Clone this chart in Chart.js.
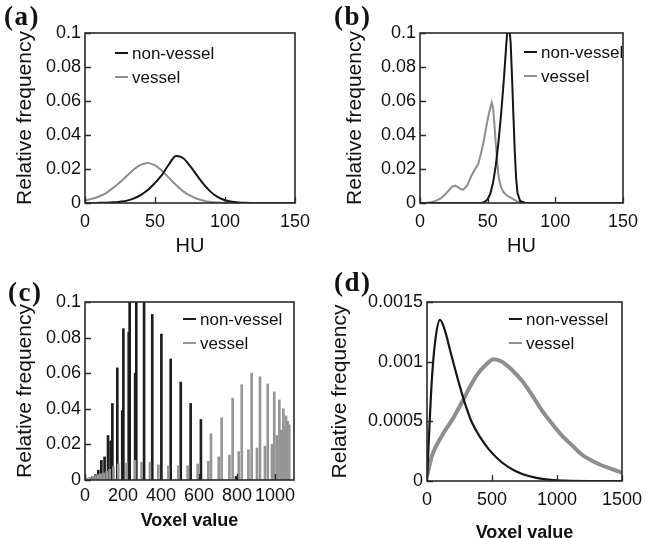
<!DOCTYPE html>
<html>
<head>
<meta charset="utf-8">
<script src="https://cdn.jsdelivr.net/npm/chart.js@4.4.1/dist/chart.umd.min.js"></script>
<style>
  body { margin: 0; background: #fff; }
  #page { position: relative; width: 656px; height: 538px; overflow: hidden; background: #fff; }
  .panel { position: absolute; }
  .panel canvas { display: block; }
  .tag { position: absolute; font: bold 27px "Liberation Serif", "Times New Roman", serif; letter-spacing: 1.5px; color: #111; line-height: 1; }
</style>
</head>
<body>
<div id="page">
  <div class="panel" style="left:0;top:0;"><canvas id="chartA" width="328" height="269"></canvas><div class="tag" style="left:4px;top:3px;">(a)</div></div>
  <div class="panel" style="left:328px;top:0;"><canvas id="chartB" width="328" height="269"></canvas><div class="tag" style="left:6px;top:3px;">(b)</div></div>
  <div class="panel" style="left:0;top:269px;"><canvas id="chartC" width="328" height="269"></canvas><div class="tag" style="left:8px;top:10px;">(c)</div></div>
  <div class="panel" style="left:328px;top:269px;"><canvas id="chartD" width="328" height="290"></canvas><div class="tag" style="left:6px;top:0px;">(d)</div></div>
</div>
<script>
// (a) HU histogram, smoothed
var huA = [0,5,10,15,20,25,30,35,40,45,50,55,60,65,70,75,80,85,90,95,100,105,110,115,120,125,130,135,140,145,150];
var nonVesselA = [0,0,0.0001,0.0002,0.0004,0.0008,0.0014,0.0027,0.0048,0.0078,0.0118,0.0165,0.0228,0.0276,0.0265,0.0218,0.0162,0.0108,0.0064,0.0034,0.0016,0.0007,0.0003,0.0001,0,0,0,0,0,0,0];
var vesselA = [0.0015,0.0025,0.0038,0.0058,0.0088,0.0122,0.0160,0.0198,0.0226,0.0236,0.0222,0.0190,0.0148,0.0106,0.0070,0.0043,0.0025,0.0013,0.0006,0.0003,0.0001,0,0,0,0,0,0,0,0,0,0];

// (b) HU histogram
var huNonB = [0,40,46,48,50,52,54,56,58,60,62,64,65,66,67,68,69,70,71,72,74,78,150];
var nonVesselB = [0,0,0.0002,0.0008,0.0022,0.0055,0.012,0.022,0.036,0.053,0.073,0.096,0.105,0.104,0.094,0.074,0.052,0.031,0.015,0.006,0.0012,0,0];
var huVesB = [0,5,8,11,15,18,21,24,26,28,30,32,35,38,40,43,45,47,49,51,53,54,55,56,57,58,59,60,62,65,68,71,75,150];
var vesselB = [0,0.0002,0.0005,0.0011,0.0025,0.0045,0.0072,0.0098,0.0102,0.0093,0.0082,0.0079,0.0105,0.016,0.019,0.023,0.029,0.036,0.045,0.053,0.059,0.056,0.046,0.035,0.025,0.016,0.012,0.009,0.006,0.004,0.0027,0.0012,0,0];

// (c) voxel value histogram (sparse bins)
var voxNonC = [40,55,70,86,103,121,135,144,170,196,202,230,235,264,270,311,354,402,451,504,556,598,610,795];
var nonVesselC = [0.002,0.003,0.0055,0.011,0.013,0.025,0.022,0.043,0.063,0.039,0.085,0.083,0.105,0.06,0.105,0.105,0.093,0.082,0.068,0.055,0.043,0.003,0.034,0.002];
var voxVesC = [10,25,40,55,70,85,100,115,130,150,175,219,263,298,342,386,439,491,540,593,649,663,704,719,760,777,809,825,860,877,905,921,947,962,984,996,1009,1023,1032,1044,1051,1058,1067,1075];
var vesselC = [0.001,0.0015,0.002,0.0025,0.003,0.0035,0.004,0.005,0.006,0.0075,0.009,0.0095,0.011,0.01,0.01,0.0085,0.008,0.008,0.008,0.009,0.0105,0.026,0.013,0.035,0.014,0.046,0.016,0.0535,0.017,0.06,0.018,0.058,0.019,0.054,0.02,0.0495,0.025,0.045,0.028,0.04,0.03,0.036,0.033,0.031];

// (d) voxel value histogram, smoothed
var voxNonD = [0,18,38,64,100,141,179,218,256,295,346,410,474,577,679,782,910,1064,1250,1500];
var nonVesselD = [0,0.00044,0.00086,0.00118,0.00135,0.00125,0.00109,0.00093,0.00078,0.00064,0.00049,0.000365,0.000267,0.000155,0.000084,0.000042,0.000014,0.000003,0,0];
var voxVesD = [0,38,115,192,269,321,385,449,513,577,654,731,808,885,962,1038,1115,1192,1269,1346,1423,1500];
var vesselD = [0.00004,0.00021,0.00038,0.00051,0.00066,0.00077,0.00089,0.00097,0.00102,0.001,0.00093,0.00084,0.00072,0.00059,0.00048,0.00038,0.0003,0.00022,0.00017,0.00013,0.0001,0.00007];

var BLACK = '#151515';
var GREY = '#8e8e8e';
var FONT = '"Liberation Sans", Arial, sans-serif';

function pts(xs, ys) {
  return xs.map(function (x, i) { return { x: x, y: ys[i] }; });
}
function fmt(v) {
  return String(Number(v.toPrecision(6)));
}

// box around the plot, ticks pointing inward, legend inside the plot
var framePlugin = {
  id: 'inside',
  afterDatasetsDraw: function (chart, args, opts) {
    var ctx = chart.ctx, a = chart.chartArea, x = chart.scales.x, y = chart.scales.y;
    ctx.save();
    ctx.strokeStyle = '#2a2a2a';
    ctx.lineWidth = 1.6;
    ctx.strokeRect(a.left, a.top, a.right - a.left, a.bottom - a.top);
    ctx.lineWidth = 1.3;
    ctx.beginPath();
    y.ticks.forEach(function (t) {
      var py = Math.round(y.getPixelForValue(t.value)) + 0.5;
      ctx.moveTo(a.left, py); ctx.lineTo(a.left + 6, py);
    });
    x.ticks.forEach(function (t) {
      var px = Math.round(x.getPixelForValue(t.value)) + 0.5;
      ctx.moveTo(px, a.bottom); ctx.lineTo(px, a.bottom - 6);
    });
    ctx.stroke();

    ctx.font = '17px ' + FONT;
    ctx.textBaseline = 'middle';
    ctx.textAlign = 'left';
    chart.data.datasets.forEach(function (ds, i) {
      var lx = a.left + opts.x, ly = a.top + opts.y + i * opts.gap;
      ctx.strokeStyle = ds.borderColor;
      ctx.lineWidth = 2;
      ctx.beginPath();
      ctx.moveTo(lx, ly); ctx.lineTo(lx + 13, ly);
      ctx.stroke();
      ctx.fillStyle = '#111';
      ctx.fillText(ds.label, lx + 17, ly + 1);
    });
    ctx.restore();
  }
};

function panel(id, type, datasets, o) {
  return new Chart(document.getElementById(id), {
    type: type,
    data: { datasets: datasets },
    options: {
      responsive: false,
      animation: false,
      events: [],
      layout: { padding: { left: 0, top: 33, right: o.right, bottom: 0 } },
      plugins: {
        legend: { display: false },
        tooltip: { enabled: false },
        inside: { x: o.legX, y: o.legY, gap: 24 }
      },
      scales: {
        x: {
          type: 'linear', min: 0, max: o.xMax, offset: false,
          grid: { display: false, drawTicks: false, offset: false },
          border: { display: false },
          ticks: { stepSize: o.xStep, includeBounds: false, autoSkip: false, maxRotation: 0, padding: o.xPad,
                   color: '#111', font: { family: FONT, size: 18 }, callback: fmt },
          title: { display: true, text: o.xTitle, color: '#111', font: o.xTitleFont,
                   padding: { top: 0, bottom: o.xTitlePad } },
          afterFit: function (s) { s.height = o.xh; }
        },
        y: {
          type: 'linear', min: 0, max: o.yMax,
          grid: { display: false, drawTicks: false },
          border: { display: false },
          ticks: { stepSize: o.yStep, padding: 4, color: '#111', autoSkip: false,
                   font: { family: FONT, size: 18 }, callback: fmt },
          title: { display: true, text: 'Relative frequency', color: '#111',
                   font: { family: FONT, size: 21 }, padding: { top: o.yTitlePad, bottom: 0 } },
          afterFit: function (s) { s.width = o.yw; }
        }
      }
    },
    plugins: [framePlugin]
  });
}

function lineSet(label, xs, ys, color, width, tension) {
  return { label: label, data: pts(xs, ys), borderColor: color, backgroundColor: color,
           borderWidth: width, pointRadius: 0, fill: false, tension: tension,
           cubicInterpolationMode: tension ? 'monotone' : 'default' };
}

panel('chartA', 'line', [
  lineSet('non-vessel', huA, nonVesselA, BLACK, 2, 0.4),
  lineSet('vessel', huA, vesselA, GREY, 2, 0.4)
], { right: 33, xMax: 150, xStep: 50, yMax: 0.1, yStep: 0.02, xTitle: 'HU',
     xTitleFont: { family: FONT, size: 20 }, xTitlePad: 11, xPad: 8, xh: 66, yw: 85,
     yTitlePad: 13, legX: 30, legY: 20 });

panel('chartB', 'line', [
  lineSet('non-vessel', huNonB, nonVesselB, BLACK, 2, 0),
  lineSet('vessel', huVesB, vesselB, GREY, 2, 0)
], { right: 33, xMax: 150, xStep: 50, yMax: 0.1, yStep: 0.02, xTitle: 'HU',
     xTitleFont: { family: FONT, size: 20 }, xTitlePad: 11, xPad: 8, xh: 66, yw: 92,
     yTitlePad: 15, legX: 104, legY: 19 });

panel('chartC', 'bar', [
  { label: 'non-vessel', data: pts(voxNonC, nonVesselC), backgroundColor: '#1e1e1e', borderColor: '#1e1e1e',
    borderWidth: 0, barThickness: 2, grouped: false, order: 1 },
  { label: 'vessel', data: pts(voxVesC, vesselC), backgroundColor: '#959595', borderColor: '#959595',
    borderWidth: 0, barThickness: 2, grouped: false, order: 0 }
], { right: 34, xMax: 1100, xStep: 200, yMax: 0.1, yStep: 0.02, xTitle: 'Voxel value',
     xTitleFont: { family: FONT, size: 18, weight: 'bold' }, xTitlePad: 6, xPad: 5, xh: 58, yw: 85,
     yTitlePad: 13, legX: 98, legY: 17 });

panel('chartD', 'line', [
  lineSet('non-vessel', voxNonD, nonVesselD, BLACK, 2.2, 0.4),
  lineSet('vessel', voxVesD, vesselD, GREY, 4, 0.4)
], { right: 34, xMax: 1500, xStep: 500, yMax: 0.0015, yStep: 0.0005, xTitle: 'Voxel value',
     xTitleFont: { family: FONT, size: 18, weight: 'bold' }, xTitlePad: 15, xPad: 8, xh: 78, yw: 99,
     yTitlePad: 0, legX: 82, legY: 17 });
</script>
</body>
</html>
